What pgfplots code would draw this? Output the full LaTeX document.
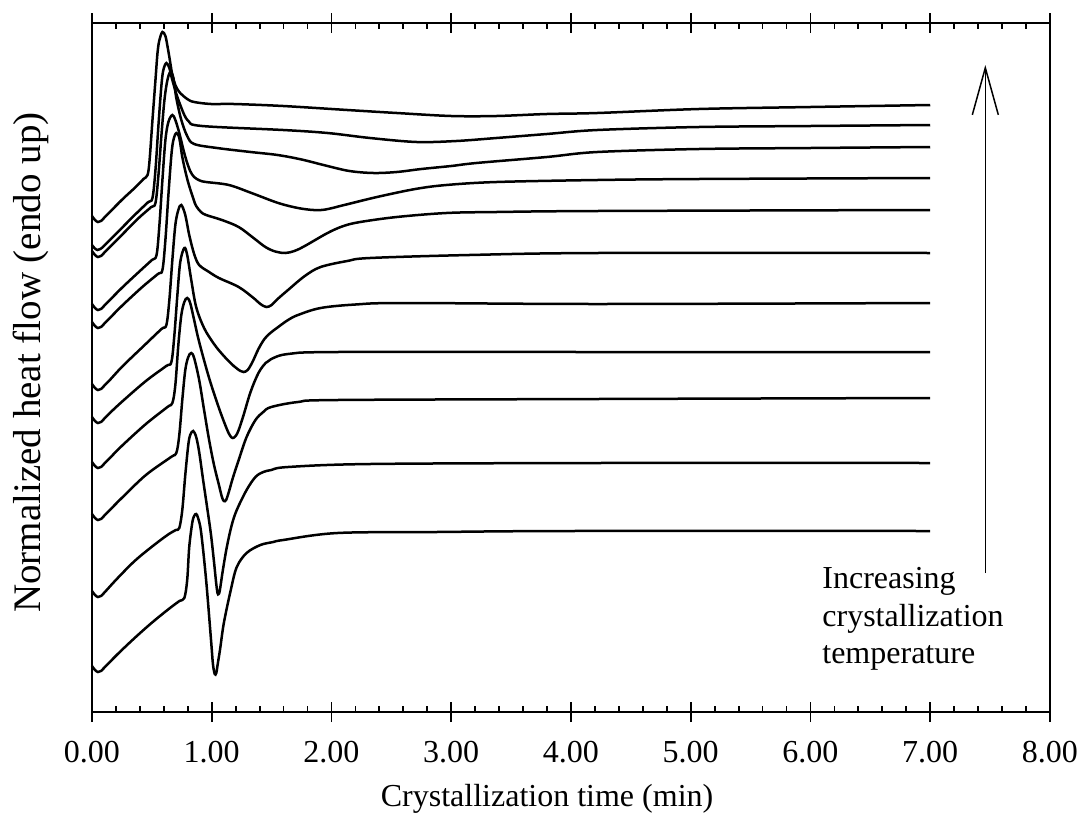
\documentclass[border=0pt]{standalone}
\usepackage{fontspec}
\setmainfont{Liberation Serif}
\usepackage{pgfplots}
\pgfplotsset{compat=1.18}
\usetikzlibrary{arrows.meta}

\begin{document}
\begin{tikzpicture}
\path[use as bounding box] (-46pt,-57.5pt) rectangle (497.5pt,356pt);
\pgfplotsset{
  common/.style={
    at={(0,0)}, anchor=south west,
    scale only axis, width=479pt, height=344.5pt,
    xmin=0, xmax=8, ymin=0, ymax=689,
    xtick={0,1,...,8}, ytick=\empty,
    axis line style={line width=1pt},
    every tick/.style={black, line width=0.9pt},
  },
  curve/.style={black, line width=1.25pt, smooth, tension=0.55, mark=none},
}
\begin{axis}[common,
  xtick align=inside, major tick length=5pt, minor tick length=3pt,
  minor x tick num=4,
  xticklabels={0.00,1.00,2.00,3.00,4.00,5.00,6.00,7.00,8.00},
  xticklabel pos=lower,
  xticklabel style={font=\fontsize{16}{19}\selectfont, yshift=-11pt},
  xlabel={Crystallization time (min)},
  xlabel style={font=\fontsize{16}{19}\selectfont, at={(axis description cs:0.475,-0.1265)}, anchor=center},
  ylabel={Normalized heat flow (endo up)},
  ylabel style={font=\fontsize{19.5}{23}\selectfont, at={(axis description cs:-0.0637,0.507)}, anchor=center},
  clip=false,
]
% c1 (top)
\addplot[curve] coordinates {(0,496) (0.025,492) (0.05,490) (0.075,491) (0.1,494) (0.149,500) (0.257,513) (0.365,525) (0.43,533) (0.464,537) (0.481,552) (0.505,592) (0.530,632) (0.547,659) (0.563,672) (0.588,680) (0.613,676) (0.630,666) (0.646,655) (0.671,637) (0.696,627) (0.729,620) (0.795,613) (0.853,610) (0.994,608) (1.184,608) (1.596,606) (2.132,602) (2.545,599) (3.0,596) (3.378,596) (3.798,598) (4.22,599) (5.068,603) (6.0,605) (7.0,607)};
% c2
\addplot[curve] coordinates {(0,467) (0.02,464) (0.045,462) (0.07,463) (0.1,466) (0.149,472) (0.257,485) (0.365,498) (0.47,510) (0.505,514) (0.530,542) (0.555,587) (0.580,627) (0.596,642) (0.621,649) (0.646,644) (0.671,632) (0.713,615) (0.771,597) (0.812,590) (0.853,587) (1.044,585) (1.596,582) (1.967,579) (2.322,574) (2.711,570) (3.042,571) (3.378,574) (3.798,578) (4.22,582) (5.068,585) (6.0,586) (7.0,587)};
% c3
\addplot[curve] coordinates {(0,461) (0.025,457) (0.05,455) (0.075,456) (0.1,459) (0.149,465) (0.257,478) (0.39,494) (0.495,505) (0.530,509) (0.555,537) (0.580,577) (0.605,612) (0.630,632) (0.655,640) (0.680,634) (0.704,614) (0.746,592) (0.795,576) (0.853,568) (1.044,564) (1.324,560) (1.55,557) (1.75,552.5) (1.95,546.5) (2.15,541) (2.35,539) (2.545,540) (2.75,543) (3.0,546) (3.21,549) (3.798,555) (4.22,560) (5.068,563) (6,564) (7,565)};
% c4
\addplot[curve] coordinates {(0,408) (0.025,404) (0.05,402) (0.075,403) (0.1,406) (0.149,412) (0.257,425) (0.40,441) (0.50,452) (0.539,457) (0.563,487) (0.588,532) (0.613,572) (0.638,590) (0.671,597) (0.696,592) (0.729,579) (0.762,563) (0.787,552) (0.82,541) (0.853,535) (0.9,531.5) (0.953,530) (1.143,527) (1.332,519) (1.555,509) (1.72,504) (1.85,502) (1.95,502.5) (2.107,507) (2.38,515) (2.7,523) (2.959,527) (3.378,530) (4.22,532) (5.068,533) (7,534)};
% c5
\addplot[curve] coordinates {(0,390) (0.025,386) (0.05,384) (0.075,385) (0.1,388) (0.149,394) (0.257,407) (0.42,425) (0.55,438) (0.588,442) (0.613,472) (0.638,517) (0.663,557) (0.680,572) (0.704,579) (0.729,574) (0.754,555) (0.787,537) (0.812,526) (0.85,512) (0.870,506) (0.91,500) (0.953,497) (1.085,492) (1.225,485) (1.349,474) (1.448,465) (1.53,460.5) (1.613,459) (1.69,461) (1.777,466) (1.967,479) (2.1,486) (2.24,490) (2.545,495) (2.959,499) (3.378,500) (4.22,501) (7,502)};
% c6
\addplot[curve] coordinates {(0,328) (0.025,324) (0.05,322) (0.075,323) (0.1,326) (0.149,332) (0.257,346) (0.44,367) (0.58,383) (0.621,387) (0.646,412) (0.671,452) (0.696,487) (0.721,502) (0.746,507) (0.779,497) (0.812,477) (0.853,458) (0.895,447) (0.978,440) (1.060,434) (1.225,425) (1.349,414) (1.406,408) (1.456,405) (1.50,407) (1.55,413) (1.637,422) (1.777,436) (1.909,445) (2.132,451) (2.322,454) (3.151,457) (4.22,459) (7,459)};
% c7
\addplot[curve] coordinates {(0,295) (0.025,291) (0.05,289) (0.075,290) (0.1,293) (0.149,299) (0.257,311) (0.45,331) (0.62,346) (0.663,350) (0.688,377) (0.713,417) (0.737,450) (0.771,464) (0.795,457) (0.829,432) (0.870,405) (0.936,384) (1.019,368) (1.101,356) (1.184,346) (1.24,341) (1.266,340) (1.30,342) (1.34,350) (1.39,363) (1.44,373) (1.489,379) (1.555,385) (1.637,392) (1.72,397) (1.909,404) (2.2,407.5) (2.603,409) (4.22,408) (7,409)};
% c8
\addplot[curve] coordinates {(0,250) (0.025,246) (0.05,244) (0.075,245) (0.1,248) (0.149,254) (0.257,267) (0.45,288) (0.63,305) (0.671,309) (0.696,327) (0.721,367) (0.746,397) (0.771,410) (0.795,414) (0.820,409) (0.853,392) (0.895,370) (0.978,334) (1.06,304) (1.126,283) (1.155,276) (1.176,274) (1.20,276) (1.225,282) (1.266,297) (1.324,320) (1.39,339) (1.45,349) (1.497,353) (1.637,358) (2.05,360) (4.22,360) (7,360)};
% c9
\addplot[curve] coordinates {(0,198) (0.025,194) (0.05,192) (0.075,193) (0.1,196) (0.149,202) (0.257,215) (0.45,237) (0.66,255) (0.704,259) (0.729,277) (0.754,312) (0.779,342) (0.804,355) (0.829,359) (0.853,354) (0.895,332) (0.936,302) (0.978,272) (1.019,247) (1.06,227) (1.085,215) (1.101,211) (1.12,212) (1.145,221) (1.176,234) (1.225,252) (1.291,275) (1.365,292) (1.43,300) (1.497,305) (1.72,310) (2.05,312) (4.22,313) (7,314)};
% c10
\addplot[curve] coordinates {(0,121) (0.025,117) (0.05,115) (0.075,116) (0.1,119) (0.215,134) (0.356,151) (0.497,165) (0.63,177) (0.70,182) (0.729,184) (0.754,202) (0.779,237) (0.804,267) (0.820,277) (0.845,281) (0.870,275) (0.895,260) (0.928,232) (0.961,205) (0.994,177) (1.019,150) (1.036,130) (1.048,119) (1.058,118) (1.068,122) (1.093,142) (1.126,165) (1.167,187) (1.209,202) (1.291,222) (1.365,235) (1.43,240) (1.497,242) (1.637,245) (2.322,248) (4.22,249) (7,249)};
% c11 (bottom)
\addplot[curve] coordinates {(0,46) (0.025,42) (0.05,40) (0.075,41) (0.1,44) (0.215,58) (0.356,74) (0.497,89) (0.63,102) (0.73,111) (0.771,114) (0.795,132) (0.812,165) (0.837,189) (0.853,196) (0.870,198) (0.886,194) (0.911,180) (0.953,132) (0.994,72) (1.010,48) (1.025,38) (1.038,39) (1.05,48) (1.07,63) (1.101,89) (1.159,122) (1.209,145) (1.291,159) (1.406,167) (1.514,170) (1.596,172) (2.05,179) (2.876,180) (4,181) (7,181)};

\draw[line width=0.75pt, -{Straight Barb[length=23.5pt, width=13pt, line width=0.75pt]}] (axis cs:7.46,139) -- (axis cs:7.46,647);
\node[anchor=north west, inner sep=0pt, align=left, font=\fontsize{16}{18.75}\selectfont] at (axis cs:6.096,145) {Increasing\\crystallization\\temperature};
\end{axis}
\begin{axis}[common,
  xtick align=outside, major tick length=5pt,
  xticklabels={}, minor x tick num=0,
]
\end{axis}
\end{tikzpicture}
\end{document}
